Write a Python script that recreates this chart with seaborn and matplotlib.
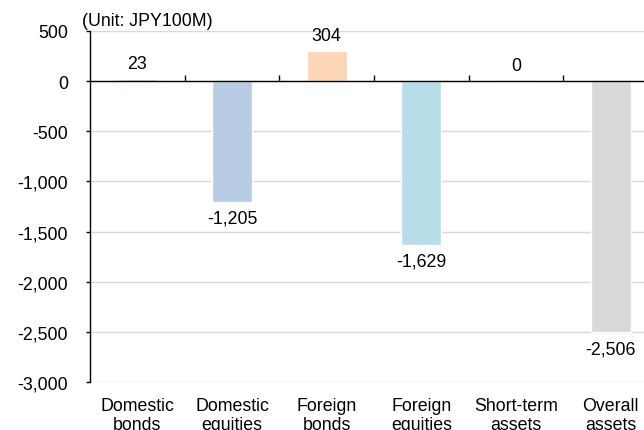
import matplotlib
matplotlib.use("Agg")
import matplotlib.pyplot as plt
import matplotlib.transforms as mtransforms
from matplotlib.ticker import FuncFormatter, FixedLocator
import seaborn as sns
import pandas as pd

# Change in holdings by asset class (JPY 100M)
categories = ["Domestic\nbonds", "Domestic\nequities", "Foreign\nbonds",
              "Foreign\nequities", "Short-term\nassets", "Overall\nassets"]
values = [23, -1205, 304, -1629, 0, -2506]
bar_colors = ["#E6B8B7", "#B8CCE4", "#FCD5B4", "#B7DEE8", "#D9D9D9", "#D9D9D9"]
y_ticks = [500, 0, -500, -1000, -1500, -2000, -2500, -3000]
unit_label = "(Unit: JPY100M)"

sns.set_theme(style="white")
plt.rcParams["font.family"] = ["Liberation Sans", "DejaVu Sans"]
FS = 12.8

df = pd.DataFrame({"category": categories, "value": values})

fig = plt.figure(figsize=(6.44, 4.31), dpi=100)
ax = fig.add_axes([90 / 644, 48 / 431, 568 / 644, 351 / 431])

sns.barplot(data=df, x="category", y="value", hue="category",
            palette=bar_colors, legend=False, width=0.42,
            saturation=1, ax=ax, zorder=2)

ax.set_xlim(-0.5, len(categories) - 0.5)
ax.set_ylim(-3000, 500)
ax.set_xlabel("")
ax.set_ylabel("")

# horizontal gridlines
ax.yaxis.set_major_locator(FixedLocator(y_ticks))
ax.yaxis.set_major_formatter(FuncFormatter(lambda v, p: f"{int(v):,}"))
ax.grid(axis="y", color="#D9D9D9", linewidth=1.0, zorder=0)
ax.set_axisbelow(True)

# spines: category axis sits on zero
for s in ["top", "right"]:
    ax.spines[s].set_visible(False)
ax.spines["bottom"].set_position(("data", 0))
ax.spines["bottom"].set_color("#000000")
ax.spines["bottom"].set_linewidth(1.0)
ax.spines["bottom"].set_zorder(3)
ax.spines["left"].set_color("#000000")
ax.spines["left"].set_linewidth(1.0)

ax.tick_params(axis="y", direction="out", length=3, width=1, color="#000000",
               labelsize=FS, labelcolor="#000000", pad=13, left=True)
ax.set_xticks([i + 0.5 for i in range(len(categories))])
ax.tick_params(axis="x", direction="in", length=4, width=1, color="#000000",
               labelbottom=False, bottom=True)

# category labels under the plot area
trans = mtransforms.blended_transform_factory(ax.transData, ax.transAxes)
for i, cat in enumerate(categories):
    ax.annotate(cat, xy=(i, 0), xycoords=trans, xytext=(0, -11),
                textcoords="offset points", ha="center", va="top",
                fontsize=FS, color="#000000", linespacing=1.15,
                annotation_clip=False)

# value labels
for i, v in enumerate(values):
    if v >= 0:
        ax.annotate(f"{v:,}", xy=(i, v), xytext=(0, 5), textcoords="offset points",
                    ha="center", va="bottom", fontsize=FS, color="#000000")
    else:
        ax.annotate(f"{v:,}", xy=(i, v), xytext=(0, -5.5), textcoords="offset points",
                    ha="center", va="top", fontsize=FS, color="#000000")

fig.text(82 / 644, 1 - 21 / 431, unit_label, ha="left", va="center",
         fontsize=FS, color="#000000")

fig.savefig("out.png", dpi=100)
